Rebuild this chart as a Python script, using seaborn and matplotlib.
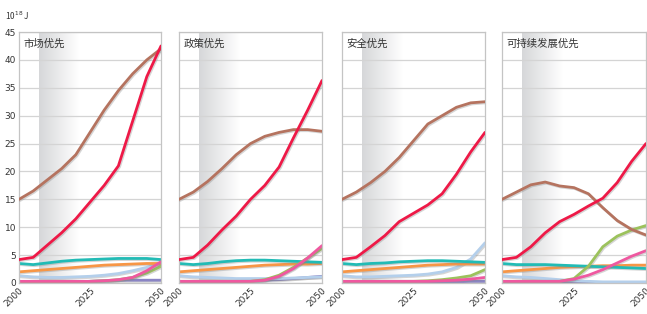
import numpy as np
import pandas as pd
import matplotlib
matplotlib.use("Agg")
import matplotlib.pyplot as plt
import matplotlib.patheffects as pe
from matplotlib.colors import LinearSegmentedColormap
import seaborn as sns

# --- data (10^18 J) ---
years = [2000, 2005, 2010, 2015, 2020, 2025, 2030, 2035, 2040, 2045, 2050]
panel_titles = ["市场优先", "政策优先", "安全优先", "可持续发展优先"]

mkt_brown = [15, 16.5, 18.5, 20.5, 23, 27, 31, 34.5, 37.5, 40, 42]
mkt_red = [4.2, 4.6, 6.8, 9.0, 11.5, 14.5, 17.5, 21.0, 29.0, 37.0, 42.5]
mkt_teal = [3.5, 3.3, 3.6, 3.9, 4.1, 4.2, 4.3, 4.4, 4.4, 4.4, 4.2]
mkt_orange = [2.0, 2.2, 2.4, 2.6, 2.8, 3.0, 3.2, 3.3, 3.4, 3.5, 3.5]
mkt_lightblue = [1.3, 1.1, 1.0, 1.0, 1.1, 1.2, 1.4, 1.7, 2.2, 2.8, 3.6]
mkt_pink = [0.3, 0.3, 0.3, 0.3, 0.3, 0.3, 0.4, 0.6, 1.0, 2.2, 3.8]
mkt_green = [0.2, 0.2, 0.2, 0.2, 0.2, 0.3, 0.4, 0.6, 1.0, 1.8, 3.0]
mkt_purple = [0.2, 0.2, 0.2, 0.2, 0.2, 0.3, 0.4, 0.5, 0.5, 0.5, 0.5]

pol_brown = [15, 16.3, 18.2, 20.5, 23, 25, 26.3, 27, 27.5, 27.5, 27.2]
pol_red = [4.2, 4.6, 6.8, 9.5, 12, 15, 17.5, 20.8, 26, 31, 36.3]
pol_teal = [3.5, 3.3, 3.5, 3.8, 4.0, 4.1, 4.1, 4.0, 3.9, 3.8, 3.7]
pol_orange = [2.0, 2.2, 2.4, 2.6, 2.8, 3.0, 3.2, 3.3, 3.4, 3.4, 3.5]
pol_lightblue = [1.3, 1.1, 1.0, 0.9, 0.8, 0.8, 0.8, 0.8, 0.9, 1.0, 1.1]
pol_pink = [0.3, 0.3, 0.3, 0.3, 0.3, 0.3, 0.5, 1.2, 2.6, 4.5, 6.7]
pol_green = [0.3, 0.3, 0.3, 0.3, 0.3, 0.3, 0.6, 1.4, 2.8, 4.5, 6.2]
pol_purple = [0.2, 0.2, 0.2, 0.2, 0.3, 0.4, 0.5, 0.6, 0.8, 1.0, 1.2]

sec_brown = [15, 16.3, 18.0, 20.0, 22.5, 25.5, 28.5, 30.0, 31.5, 32.3, 32.5]
sec_red = [4.2, 4.6, 6.5, 8.5, 11.0, 12.5, 14.0, 16.0, 19.5, 23.5, 27.0]
sec_teal = [3.5, 3.3, 3.5, 3.6, 3.8, 3.9, 4.0, 4.0, 3.9, 3.8, 3.7]
sec_orange = [2.0, 2.2, 2.4, 2.6, 2.8, 3.0, 3.2, 3.3, 3.4, 3.4, 3.4]
sec_lightblue = [1.3, 1.1, 1.1, 1.2, 1.3, 1.4, 1.6, 2.0, 2.8, 4.3, 7.2]
sec_pink = [0.3, 0.3, 0.3, 0.3, 0.3, 0.3, 0.3, 0.4, 0.5, 0.7, 1.0]
sec_green = [0.3, 0.3, 0.3, 0.3, 0.3, 0.3, 0.4, 0.6, 0.9, 1.3, 2.4]
sec_purple = [0.2, 0.2, 0.2, 0.2, 0.2, 0.2, 0.2, 0.2, 0.2, 0.3, 0.3]

sus_brown = [15, 16.3, 17.6, 18.1, 17.4, 17.1, 16.0, 13.5, 11.2, 9.6, 8.6]
sus_red = [4.2, 4.6, 6.5, 9.0, 11.0, 12.3, 13.8, 15.2, 18.0, 21.8, 25.0]
sus_teal = [3.5, 3.3, 3.3, 3.3, 3.2, 3.1, 3.0, 2.9, 2.8, 2.7, 2.6]
sus_orange = [2.0, 2.2, 2.4, 2.6, 2.8, 2.9, 3.0, 3.1, 3.1, 3.2, 3.2]
sus_lightblue = [1.3, 1.1, 1.0, 0.8, 0.6, 0.4, 0.3, 0.2, 0.2, 0.2, 0.2]
sus_pink = [0.3, 0.3, 0.3, 0.3, 0.3, 0.7, 1.4, 2.4, 3.6, 4.8, 5.8]
sus_green = [0.3, 0.3, 0.3, 0.3, 0.3, 0.8, 3.0, 6.5, 8.4, 9.5, 10.3]
sus_purple = [0.2, 0.2, 0.2, 0.2, 0.2, 0.2, 0.2, 0.2, 0.2, 0.2, 0.2]

# draw order: bottom first
series_order = ["purple", "lightblue", "orange", "teal", "green", "pink", "brown", "red"]
colors = {"brown": "#b5735f", "red": "#ee1947", "teal": "#22bbb5", "orange": "#f79646",
          "lightblue": "#b4cfeb", "pink": "#ef58a0", "green": "#9cc25c", "purple": "#8a84c4"}

panels = [
    dict(brown=mkt_brown, red=mkt_red, teal=mkt_teal, orange=mkt_orange,
         lightblue=mkt_lightblue, pink=mkt_pink, green=mkt_green, purple=mkt_purple),
    dict(brown=pol_brown, red=pol_red, teal=pol_teal, orange=pol_orange,
         lightblue=pol_lightblue, pink=pol_pink, green=pol_green, purple=pol_purple),
    dict(brown=sec_brown, red=sec_red, teal=sec_teal, orange=sec_orange,
         lightblue=sec_lightblue, pink=sec_pink, green=sec_green, purple=sec_purple),
    dict(brown=sus_brown, red=sus_red, teal=sus_teal, orange=sus_orange,
         lightblue=sus_lightblue, pink=sus_pink, green=sus_green, purple=sus_purple),
]

sns.set_style("white")
plt.rcParams['font.family'] = ['Noto Sans CJK SC', 'DejaVu Sans']

fig = plt.figure(figsize=(6.47, 3.14), dpi=100)
lefts = [19, 179, 342, 502]
widths = [142, 143, 143, 144]
y0 = 1 - 283 / 314
h = 251 / 314

shade_cmap = LinearSegmentedColormap.from_list("shade", ["#ffffff", "#d6d7d9"])
gradient = np.linspace(1, 0, 256).reshape(1, -1)

for i, (data, title) in enumerate(zip(panels, panel_titles)):
    ax = fig.add_axes([lefts[i] / 647, y0, widths[i] / 647, h])
    ax.imshow(gradient, cmap=shade_cmap, aspect="auto", extent=[2007, 2021, 0, 45],
              zorder=0, vmin=0, vmax=1)
    for name in series_order:
        sns.lineplot(x=years, y=data[name], color=colors[name], lw=2.0, ax=ax,
                     zorder=3 if name in ("brown", "red") else 2)
    for line in ax.lines:
        line.set_path_effects([pe.SimpleLineShadow(offset=(0.8, -0.8), shadow_color="#888888",
                                                   alpha=0.35), pe.Normal()])
    ax.set_xlim(2000, 2050)
    ax.set_ylim(0, 45)
    ax.set_yticks(range(0, 46, 5))
    ax.set_xticks([2000, 2025, 2050])
    ax.grid(axis="y", color="#d4d4d4", lw=0.9)
    ax.grid(axis="x", visible=False)
    for s in ax.spines.values():
        s.set_color("#c4c4c4")
        s.set_linewidth(0.9)
    ax.tick_params(length=0, pad=2, labelsize=6.5, colors="#333333")
    for lab in ax.get_xticklabels():
        lab.set_rotation(45)
        lab.set_ha("right")
        lab.set_rotation_mode("anchor")
        lab.set_family(["Liberation Sans Narrow", "DejaVu Sans"])
    for lab in ax.get_yticklabels():
        lab.set_family(["Liberation Sans Narrow", "DejaVu Sans"])
    if i > 0:
        ax.set_yticklabels([])
    ax.text(0.03, 0.975, title, transform=ax.transAxes, ha="left", va="top",
            fontsize=7.5, color="#333333", zorder=5)

fig.text(5 / 647, 1 - 16 / 314, "10$^{18}$ J", fontsize=6, color="#333333",
         ha="left", va="center")

fig.savefig("out.png", dpi=100)
